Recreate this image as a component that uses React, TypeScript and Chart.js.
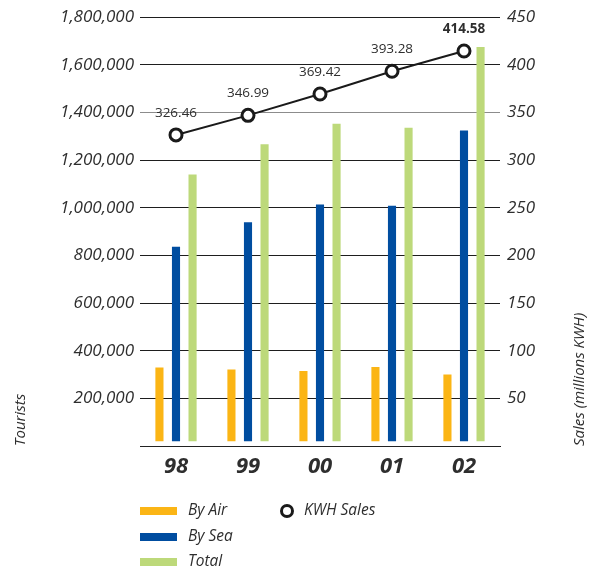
import { useEffect, useRef } from 'react';
import { Chart, registerables } from 'chart.js';

Chart.register(...registerables);

const years = ['98', '99', '00', '01', '02'];
const byAir = [330000, 321000, 315000, 332000, 300000];
const bySea = [836000, 939000, 1014000, 1008000, 1324000];
const total = [1140000, 1267000, 1353000, 1336000, 1675000];
const kwhSales = [326.46, 346.99, 369.42, 393.28, 414.58];

const touristMax = 1800000;
const touristStep = 200000;
const salesMax = 450;
const salesStep = 50;

const leftTitle = 'Tourists';
const rightTitle = 'Sales (millions KWH)';

const FONT = "'Open Sans', 'Noto Sans', sans-serif";
const TEXT = '#2e2e2e';
const AIR = '#FBB515';
const SEA = '#004DA0';
const TOT = '#BDD97A';

const extrasPlugin = {
  id: 'extras',
  afterDatasetsDraw(chart: any) {
    const ctx = chart.ctx;
    // data labels over the line points
    const lineIndex = chart.data.datasets.findIndex((d: any) => d.type === 'line');
    const meta = chart.getDatasetMeta(lineIndex);
    ctx.save();
    ctx.fillStyle = TEXT;
    ctx.textAlign = 'center';
    ctx.textBaseline = 'middle';
    meta.data.forEach((pt: any, i: number) => {
      const last = i === meta.data.length - 1;
      ctx.font = `${last ? 'bold ' : ''}13.5px ${FONT}`;
      const v = chart.data.datasets[lineIndex].data[i];
      ctx.fillText(Number(v).toFixed(2), pt.x, pt.y - 22);
    });
    ctx.restore();
  },
  afterDraw(chart: any) {
    const ctx = chart.ctx;
    ctx.save();
    ctx.fillStyle = TEXT;
    // axis titles (both read bottom-to-top, anchored at the bottom)
    ctx.font = `italic 15px ${FONT}`;
    ctx.textAlign = 'left';
    ctx.textBaseline = 'middle';
    ctx.save();
    ctx.translate(21, 446);
    ctx.rotate(-Math.PI / 2);
    ctx.fillText(leftTitle, 0, 0);
    ctx.restore();
    ctx.save();
    ctx.translate(580, 446);
    ctx.rotate(-Math.PI / 2);
    ctx.fillText(rightTitle, 0, 0);
    ctx.restore();

    // legend
    const ds = chart.data.datasets;
    const rows = [511, 537, 562];
    ctx.font = `italic 15.5px ${FONT}`;
    let r = 0;
    ds.forEach((d: any) => {
      if (d.type === 'line') return;
      const y = rows[r++];
      ctx.fillStyle = d.backgroundColor;
      ctx.fillRect(140, y - 4, 37, 8);
      ctx.fillStyle = TEXT;
      ctx.fillText(d.label, 188, y);
    });
    const line = ds.find((d: any) => d.type === 'line');
    if (line) {
      ctx.beginPath();
      ctx.arc(287, 511, 5.5, 0, Math.PI * 2);
      ctx.fillStyle = '#fff';
      ctx.fill();
      ctx.lineWidth = 3;
      ctx.strokeStyle = line.borderColor;
      ctx.stroke();
      ctx.fillStyle = TEXT;
      ctx.fillText(line.label, 304, 511);
    }
    ctx.restore();
  },
};

export default function App() {
  const ref = useRef<HTMLCanvasElement>(null);

  useEffect(() => {
    document.body.style.margin = '0';
    const canvas = ref.current;
    if (!canvas) return;
    const barBase = 20000;
    const chart = new Chart(canvas, {
      data: {
        labels: years,
        datasets: [
          {
            type: 'line' as const,
            label: 'KWH Sales',
            data: kwhSales,
            yAxisID: 'y1',
            borderColor: '#1a1a1a',
            borderWidth: 2,
            backgroundColor: '#ffffff',
            pointBackgroundColor: '#ffffff',
            pointBorderColor: '#1a1a1a',
            pointBorderWidth: 3,
            pointRadius: 6,
            tension: 0,
            order: 0,
          },
          {
            type: 'bar' as const,
            label: 'By Air',
            data: byAir,
            backgroundColor: AIR,
            yAxisID: 'y',
            base: barBase,
            order: 1,
          },
          {
            type: 'bar' as const,
            label: 'By Sea',
            data: bySea,
            backgroundColor: SEA,
            yAxisID: 'y',
            base: barBase,
            order: 1,
          },
          {
            type: 'bar' as const,
            label: 'Total',
            data: total,
            backgroundColor: TOT,
            yAxisID: 'y',
            base: barBase,
            order: 1,
          },
        ],
      } as any,
      options: {
        responsive: false,
        animation: false,
        layout: { padding: { top: 14, left: 0, right: 0, bottom: 0 } },
        datasets: {
          bar: { categoryPercentage: 0.69, barPercentage: 0.49 },
        } as any,
        plugins: {
          legend: { display: false },
          tooltip: { enabled: false },
          title: { display: false },
        },
        scales: {
          x: {
            offset: true,
            grid: { display: false, drawTicks: false },
            border: { display: true, color: '#222', width: 1 },
            ticks: {
              padding: 8,
              color: TEXT,
              font: { family: FONT, size: 22, style: 'italic', weight: 'bold' },
            },
            afterFit: (s: any) => {
              s.height = 125;
            },
          },
          y: {
            position: 'left',
            min: 0,
            max: touristMax,
            border: { display: false },
            grid: {
              drawTicks: false,
              color: (c: any) => (c.tick && c.tick.value === 1400000 ? '#8c8c8c' : '#1e1e1e'),
              lineWidth: 1,
            },
            ticks: {
              stepSize: touristStep,
              padding: 6,
              color: TEXT,
              font: { family: FONT, size: 17, style: 'italic' },
              callback: (v: any) => (v === 0 ? '' : Number(v).toLocaleString('en-US')),
            },
            afterFit: (s: any) => {
              s.width = 140;
            },
          },
          y1: {
            position: 'right',
            min: 0,
            max: salesMax,
            border: { display: false },
            grid: { display: false, drawTicks: false },
            ticks: {
              stepSize: salesStep,
              padding: 7,
              color: TEXT,
              font: { family: FONT, size: 17, style: 'italic' },
              callback: (v: any) => (v === 0 ? '' : String(v)),
            },
            afterFit: (s: any) => {
              s.width = 92;
            },
          },
        },
      } as any,
      plugins: [extrasPlugin],
    });
    return () => chart.destroy();
  }, []);

  return (
    <div style={{ width: 592, height: 571 }}>
      <canvas ref={ref} width={592} height={571} style={{ display: 'block' }} />
    </div>
  );
}
